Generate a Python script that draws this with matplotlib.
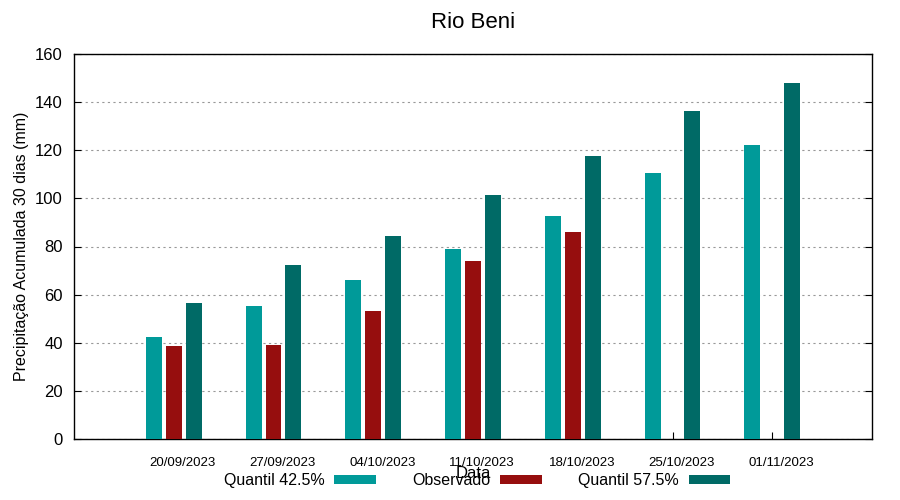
import matplotlib.pyplot as plt
import numpy as np

plt.rcParams['font.family'] = ['Liberation Sans', 'DejaVu Sans']

datas = ['20/09/2023', '27/09/2023', '04/10/2023', '11/10/2023',
         '18/10/2023', '25/10/2023', '01/11/2023']
q425 = [42.4, 55.3, 66.1, 79.0, 92.7, 110.6, 122.2]
observado = [38.7, 39.1, 53.2, 74.0, 86.0, np.nan, np.nan]
q575 = [56.5, 72.3, 84.4, 101.4, 117.6, 136.3, 148.0]

x = np.arange(len(datas))
w = 0.16

fig = plt.figure(figsize=(9, 5), dpi=100)
ax = fig.add_axes([0.0822, 0.122, 0.8867, 0.770])

ax.bar(x - 0.2, q425, w, color='#009a99', label='Quantil 42.5%', zorder=3)
ax.bar(x, observado, w, color='#960e0e', label='Observado', zorder=3)
ax.bar(x + 0.2, q575, w, color='#006a66', label='Quantil 57.5%', zorder=3)

ax.set_xlim(-1, 7)
ax.set_ylim(0, 160)
ax.set_yticks(np.arange(0, 161, 20))
# tick marks at group centres, labels slightly shifted right (gnuplot look)
ax.set_xticks(x)
ax.set_xticklabels([])
ax.set_xticks(x + 0.09, minor=True)
ax.set_xticklabels(datas, minor=True, fontsize=9.5)
ax.tick_params(axis='x', which='minor', length=0, pad=13)
ax.tick_params(axis='x', which='major', direction='in', length=5)

ax.tick_params(axis='y', labelsize=12, direction='in', right=True, length=5, pad=8)
ax.yaxis.grid(True, linestyle=(0, (2, 3)), color='#999999', linewidth=0.8, zorder=0)
for s in ax.spines.values():
    s.set_linewidth(1.0)

ax.set_title('Rio Beni', fontsize=16, pad=19)
ax.set_ylabel('Precipitação Acumulada 30 dias (mm)', fontsize=11.5, labelpad=4)
ax.set_xlabel('Data', fontsize=12, labelpad=-2)

ax.legend(loc='upper center', bbox_to_anchor=(0.505, -0.06), ncol=3, frameon=False,
          markerfirst=False, fontsize=11.5, handlelength=2.6, handleheight=0.45,
          columnspacing=2.3, handletextpad=0.6, borderpad=0.2)

fig.savefig('out.png', dpi=100)
